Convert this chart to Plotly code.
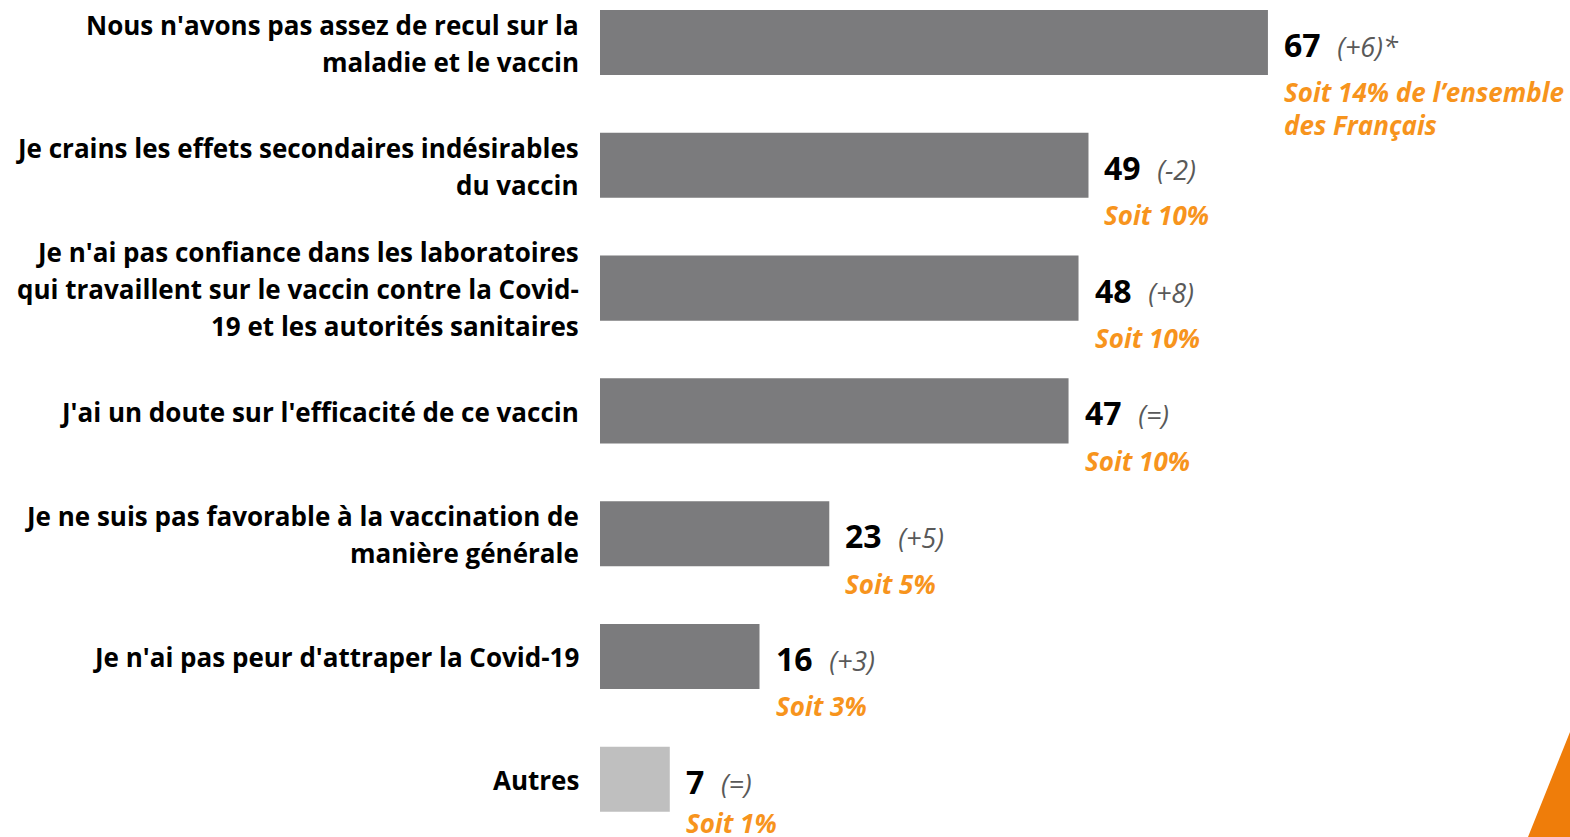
import plotly.graph_objects as go

categories = [
    "Nous n'avons pas assez de recul sur la<br>maladie et le vaccin",
    "Je crains les effets secondaires indésirables<br>du vaccin",
    "Je n'ai pas confiance dans les laboratoires<br>qui travaillent sur le vaccin contre la Covid-<br>19 et les autorités sanitaires",
    "J'ai un doute sur l'efficacité de ce vaccin",
    "Je ne suis pas favorable à la vaccination de<br>manière générale",
    "Je n'ai pas peur d'attraper la Covid-19",
    "Autres",
]
values = [67, 49, 48, 47, 23, 16, 7]
deltas = ["(+6)*", "(-2)", "(+8)", "(=)", "(+5)", "(+3)", "(=)"]
soit = ["Soit 14% de l’ensemble<br>des Français", "Soit 10%", "Soit 10%", "Soit 10%",
        "Soit 5%", "Soit 3%", "Soit 1%"]
bar_colors = ["#7b7b7d"] * 6 + ["#bfbfbf"]

FONT = "Open Sans"
ORANGE = "#F7941D"
LINE_H = 37
SOIT_LINE_H = 33

ypos = list(range(len(categories)))

fig = go.Figure()
fig.add_trace(go.Bar(
    x=values, y=ypos, orientation="h",
    marker=dict(color=bar_colors, line=dict(width=0)),
    width=0.53, hoverinfo="skip",
))

annotations = []
last = len(categories) - 1
for i, (cat, v, d, s) in enumerate(zip(categories, values, deltas, soit)):
    lines = cat.split("<br>")
    n = len(lines)
    for k, line in enumerate(lines):
        off = ((n - 1) / 2 - k) * LINE_H
        annotations.append(dict(
            x=0, xref="paper", y=i, yref="y", xanchor="right", yanchor="middle",
            xshift=-19, yshift=off - 1, text=f"<b>{line}</b>", showarrow=False, align="right",
            font=dict(family=FONT, size=26, color="#000000"),
        ))
    annotations.append(dict(
        x=v, xref="x", y=i, yref="y", xanchor="left", yanchor="middle",
        xshift=14, yshift=-2,
        text=f"<b>{v}</b>&nbsp;&nbsp;<span style='font-size:27px;color:#595959'><i>{d}</i></span>",
        showarrow=False, align="left",
        font=dict(family=FONT, size=32, color="#000000"),
    ))
    base = -44 if i == last else -50
    for k, line in enumerate(s.split("<br>")):
        annotations.append(dict(
            x=v, xref="x", y=i, yref="y", xanchor="left", yanchor="middle",
            xshift=14, yshift=base - k * SOIT_LINE_H,
            text=f"<b><i>{line}</i></b>", showarrow=False, align="left",
            font=dict(family=FONT, size=26, color=ORANGE),
        ))

W, H = 1570, 837
L = 600
pts = [(1528, 837), (1570, 732), (1570, 837)]
xs = [(px - L) / (W - L) for px, _ in pts]
ys = [1 - py / H for _, py in pts]

fig.update_layout(
    width=W, height=H,
    margin=dict(l=L, r=0, t=0, b=0),
    paper_bgcolor="white", plot_bgcolor="white",
    showlegend=False,
    xaxis=dict(range=[0, 97.3], visible=False, fixedrange=True),
    yaxis=dict(range=[6.47, -0.346], visible=False, fixedrange=True),
    annotations=annotations,
)
fig.add_shape(type="path", xref="paper", yref="paper",
              path=f"M {xs[0]} {ys[0]} L {xs[1]} {ys[1]} L {xs[2]} {ys[2]} Z",
              fillcolor="#EF7D0A", line=dict(width=0), layer="above")

fig.write_html("out.html", config={"displayModeBar": False},
               post_script="document.body.style.margin='0';")
